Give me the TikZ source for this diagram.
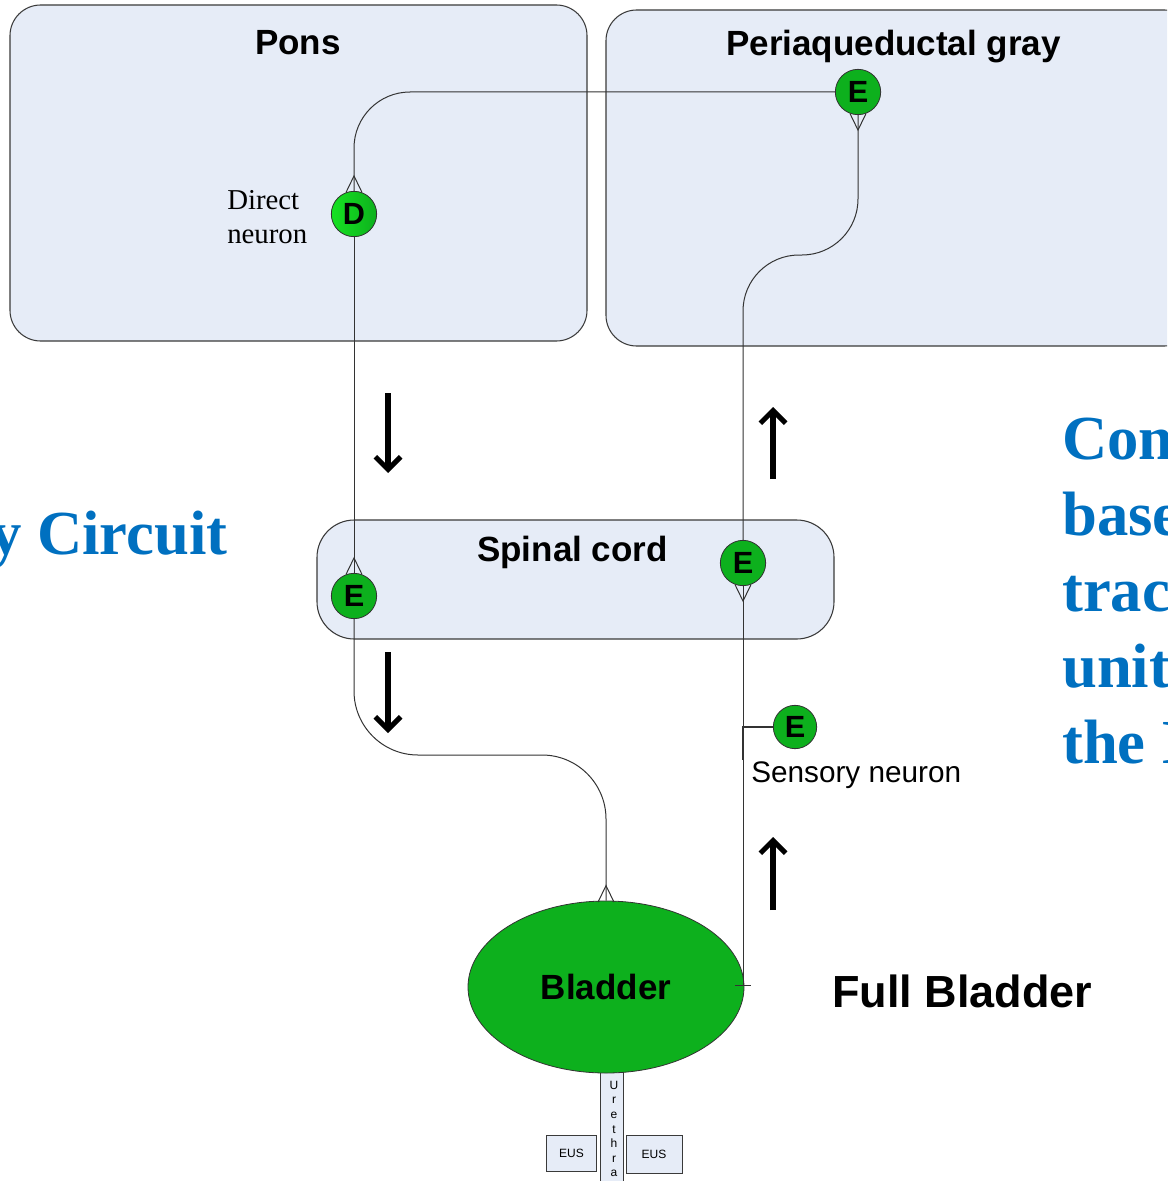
\documentclass[tikz,border=0pt]{standalone}
\usepackage{fontspec}
\setmainfont{Liberation Serif}
\setsansfont{Liberation Sans}
\usetikzlibrary{arrows.meta,shapes.geometric,calc}
\definecolor{regionfill}{HTML}{E6ECF7}
\definecolor{edgegray}{HTML}{3A3A3A}
\definecolor{cellgreen}{HTML}{0DB01D}
\definecolor{brightgreen}{HTML}{16E222}
\definecolor{titleblue}{HTML}{0070C0}
\begin{document}
\begin{tikzpicture}[x=0.75pt,y=-0.75pt,
  region/.style={draw=edgegray,fill=regionfill,line width=0.8pt},
  title/.style={font=\sffamily\bfseries\fontsize{26.25}{30}\selectfont,inner sep=0pt,anchor=base},
  cell/.style={circle,draw=black!80,fill=cellgreen,line width=0.6pt,minimum size=34pt,inner sep=0pt,
    font=\sffamily\bfseries\fontsize{23}{24}\selectfont},
  axon/.style={draw=black!80,line width=0.75pt},
  synapse/.pic={\draw[axon,line join=miter] (-8,1.5) -- (0,-15) -- (8,1.5);},
  flow/.style={line width=3.8pt,-{Straight Barb[length=9.5pt,width=19pt]}},
  bluehead/.style={font=\bfseries\fontsize{47}{50}\selectfont,text=titleblue,inner sep=0pt,anchor=base west},
  plain/.style={inner sep=0pt,anchor=base west},
  sphincter/.style={draw=edgegray,fill=regionfill,line width=0.6pt,inner sep=0pt,
    font=\sffamily\fontsize{9}{10}\selectfont}
]
\useasboundingbox (0,0) rectangle (1167,1181);
\clip (0,0) rectangle (1167,1181);

% brain and spinal regions
\draw[region,rounded corners=23pt] (10,5) rectangle (587,341);
\draw[region,rounded corners=23pt] (606,10) rectangle (1195,346);
\draw[region,rounded corners=28pt] (317,520) rectangle (834,639);
\node[title] (ponsT) at (298,55) {Pons};
\node[title] (pagT) at (893.5,56) {Periaqueductal gray};
\node[title] (spinalT) at (572.5,561) {Spinal cord};

% urethra with external urethral sphincters
\draw[region,line width=0.6pt] (600,1070) rectangle (623,1195);
\node[inner sep=0pt,align=center,font=\sffamily\fontsize{9}{10.95}\selectfont] (urethra) at (614,1129)
  {U\\r\\e\\t\\h\\r\\a};
\node[sphincter,minimum width=38pt,minimum height=27pt] (eusL) at (571.5,1153) {EUS};
\node[sphincter,minimum width=42pt,minimum height=29pt] (eusR) at (654,1154.5) {EUS};

% bladder
\node[ellipse,draw=black!80,fill=cellgreen,line width=0.6pt,minimum width=207pt,minimum height=129pt,
  inner sep=0pt,font=\sffamily\bfseries\fontsize{26.25}{30}\selectfont] (bl) at (606,987) {Bladder};

% neurons
\node[cell] (Etop) at (858,92) {E};
\node[cell,left color=brightgreen,right color=cellgreen] (D) at (354,214) {D};
\node[cell] (ESl) at (354,596) {E};
\node[cell] (ESr) at (743,563) {E};
\node[cell,minimum size=32.5pt] (ESens) at (795,727) {E};

% pathways
\coordinate (lowbend) at (606,755);
\coordinate (pagbend) at (858,255);
\coordinate (bltap) at (743,985);
\coordinate (senstap) at (743,727);
\coordinate (senstail) at (743,760);
\draw[axon,rounded corners=42pt] (Etop.west) -| (D.north);
\draw[axon] (D.south) -- (ESl.north);
\draw[axon,rounded corners=48pt] (ESl.south) |- (lowbend) -- (bl.north);
\draw[axon] (bltap) -- (ESr.south);
\draw[axon,rounded corners=42pt] (ESr.north) |- (pagbend) -- (Etop.south);
\draw[axon,line width=1.1pt] (ESens.west) -- (senstap) -- (senstail);
\draw[axon] ($(bltap)+(-8,0)$) -- ($(bltap)+(8,0)$);

% synaptic endings
\pic at (D.north) {synapse};
\pic at (ESl.north) {synapse};
\pic at (bl.north) {synapse};
\pic[rotate=180] at (ESr.south) {synapse};
\pic[rotate=180] at (Etop.south) {synapse};

% direction of signal flow
\coordinate (d1a) at (388,393); \coordinate (d1b) at (388,473);
\coordinate (d2a) at (388,652); \coordinate (d2b) at (388,733);
\coordinate (u1a) at (773,479); \coordinate (u1b) at (773,407);
\coordinate (u2a) at (773,910); \coordinate (u2b) at (773,837);
\draw[flow] (d1a) -- (d1b);
\draw[flow] (d2a) -- (d2b);
\draw[flow] (u1a) -- (u1b);
\draw[flow] (u2a) -- (u2b);

% labels
\node[plain,font=\fontsize{21.6}{25}\selectfont] (dirA) at (227,209) {Direct};
\node[plain,font=\fontsize{21.6}{25}\selectfont] (dirB) at (227,243) {neuron};
\node[plain,font=\sffamily\fontsize{22.3}{25}\selectfont] (sens) at (751,782) {Sensory neuron};
\node[plain,font=\sffamily\bfseries\fontsize{33.75}{38}\selectfont] (full) at (832,1007) {Full Bladder};

% slide text running off the edges
\node[bluehead] (leftT) at (-10,554) {y Circuit};
\node[bluehead] (r1) at (1062,459) {Con};
\node[bluehead] (r2) at (1062,535) {base};
\node[bluehead] (r3) at (1062,611) {trac};
\node[bluehead] (r4) at (1062,687) {unit};
\node[bluehead] (r5) at (1062,763) {the I};
\end{tikzpicture}
\end{document}
